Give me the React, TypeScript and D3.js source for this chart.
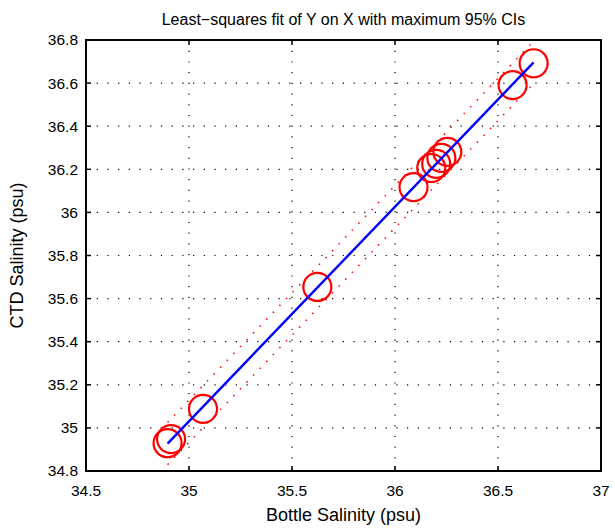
import React from "react";
import * as d3 from "d3";

const bottleSalinity = [34.896, 34.913, 35.068, 35.623, 36.09, 36.176, 36.2, 36.225, 36.254, 36.571, 36.673];
const ctdSalinity = [34.929, 34.948, 35.088, 35.654, 36.117, 36.206, 36.225, 36.253, 36.281, 36.591, 36.692];
const xTicks = [34.5, 35, 35.5, 36, 36.5, 37];
const yTicks = [34.8, 35, 35.2, 35.4, 35.6, 35.8, 36, 36.2, 36.4, 36.6, 36.8];
const ciHalfWidth = 0.098;

const W = 615, H = 531;
const M = { left: 86, right: 14, top: 40, bottom: 60 };
const FONT = "'Liberation Sans', Arial, Helvetica, sans-serif";

export default function App() {
  const x = d3.scaleLinear().domain([34.5, 37]).range([M.left, W - M.right]);
  const y = d3.scaleLinear().domain([34.8, 36.8]).range([H - M.bottom, M.top]);

  const n = bottleSalinity.length;
  const mx = d3.mean(bottleSalinity)!;
  const my = d3.mean(ctdSalinity)!;
  let sxy = 0, sxx = 0;
  for (let i = 0; i < n; i++) {
    sxy += (bottleSalinity[i] - mx) * (ctdSalinity[i] - my);
    sxx += (bottleSalinity[i] - mx) ** 2;
  }
  const b = sxy / sxx;
  const a = my - b * mx;
  const [x0, x1] = d3.extent(bottleSalinity) as [number, number];
  const line = d3.line<[number, number]>().x(d => x(d[0])).y(d => y(d[1]));
  const fitPts: [number, number][] = [[x0, a + b * x0], [x1, a + b * x1]];
  const upPts: [number, number][] = fitPts.map(p => [p[0], p[1] + ciHalfWidth]);
  const loPts: [number, number][] = fitPts.map(p => [p[0], p[1] - ciHalfWidth]);

  const L = M.left, R = W - M.right, T = M.top, B = H - M.bottom;
  const tl = 5;
  const fs = 15.5;
  const tfs = 16;
  const lfs = 18;

  return (
    <svg width={W} height={H} style={{ position: "fixed", left: 0, top: 0, background: "#fff" }} fontFamily={FONT}>
      <rect x={0} y={0} width={W} height={H} fill="#fff" />
      {/* grid */}
      {xTicks.slice(1, -1).map(t => (
        <line key={"gx" + t} x1={x(t)} x2={x(t)} y1={T} y2={B} stroke="#000" strokeWidth={1.2} strokeDasharray="1.2,9.5" />
      ))}
      {yTicks.slice(1, -1).map(t => (
        <line key={"gy" + t} x1={L} x2={R} y1={y(t)} y2={y(t)} stroke="#000" strokeWidth={1.2} strokeDasharray="1.2,9.5" />
      ))}
      {/* ticks */}
      {xTicks.map(t => (
        <g key={"tx" + t}>
          <line x1={x(t)} x2={x(t)} y1={B} y2={B - tl} stroke="#000" strokeWidth={1.5} />
          <line x1={x(t)} x2={x(t)} y1={T} y2={T + tl} stroke="#000" strokeWidth={1.5} />
          <text x={x(t)} y={B + 25} textAnchor="middle" fontSize={fs} fill="#000">{t}</text>
        </g>
      ))}
      {yTicks.map(t => (
        <g key={"ty" + t}>
          <line x1={L} x2={L + tl} y1={y(t)} y2={y(t)} stroke="#000" strokeWidth={1.5} />
          <line x1={R} x2={R - tl} y1={y(t)} y2={y(t)} stroke="#000" strokeWidth={1.5} />
          <text x={L - 8} y={y(t)} dy="0.35em" textAnchor="end" fontSize={fs} fill="#000">{t}</text>
        </g>
      ))}
      {/* CI lines */}
      <path d={line(upPts)!} stroke="#f00" strokeWidth={1.5} strokeDasharray="1.5,8" fill="none" />
      <path d={line(loPts)!} stroke="#f00" strokeWidth={1.5} strokeDasharray="1.5,8" fill="none" />
      {/* points */}
      {bottleSalinity.map((v, i) => (
        <circle key={"c" + i} cx={x(v)} cy={y(ctdSalinity[i])} r={14} fill="none" stroke="#f00" strokeWidth={2.2} />
      ))}
      {/* fit */}
      <path d={line(fitPts)!} stroke="#00f" strokeWidth={2.4} fill="none" />
      {/* box */}
      <rect x={L} y={T} width={R - L} height={B - T} fill="none" stroke="#000" strokeWidth={2} />
      {/* labels */}
      <text x={(L + R) / 2} y={25} textAnchor="middle" fontSize={tfs} fill="#000">Least−squares fit of Y on X with maximum 95% CIs</text>
      <text x={(L + R) / 2} y={H - 10} textAnchor="middle" fontSize={lfs} fill="#000">Bottle Salinity (psu)</text>
      <text transform={`translate(23,${(T + B) / 2}) rotate(-90)`} textAnchor="middle" fontSize={lfs} fill="#000">CTD Salinity (psu)</text>
    </svg>
  );
}
